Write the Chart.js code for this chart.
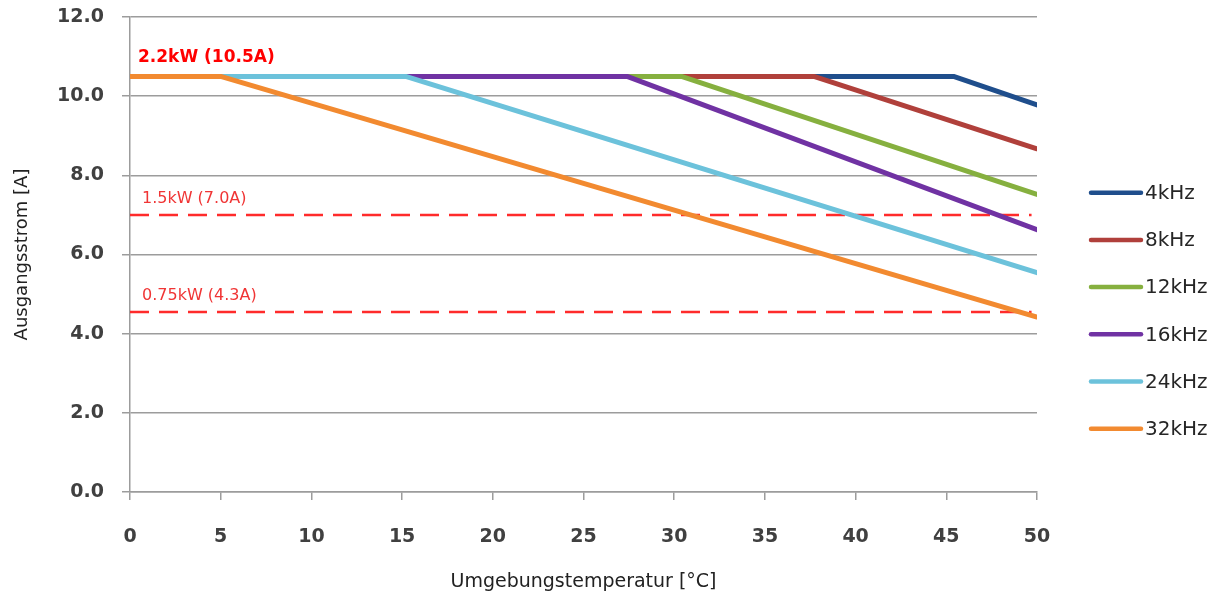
<!DOCTYPE html>
<html><head><meta charset="utf-8">
<script src="https://cdn.jsdelivr.net/npm/chart.js@4/dist/chart.umd.min.js"></script>
<style>html,body{margin:0;padding:0;background:#fff;}#wrap{width:1222px;height:593px;position:relative;}</style>
</head><body><div id="wrap"><canvas id="c" width="1222" height="593"></canvas></div>
<script>
// ---- data ----
const seriesLabels   = ['4kHz','8kHz','12kHz','16kHz','24kHz','32kHz'];
const flatCurrent    = [10.5, 10.5, 10.5, 10.5, 10.5, 10.5];   // A, before derating
const deratingStart  = [45.4, 37.7, 30.4, 27.4, 15.2, 5.0];    // °C where derating starts
const currentAt50    = [9.78, 8.67, 7.52, 6.63, 5.54, 4.42];   // A at 50 °C
const tempRange      = [0, 50];
const limitCurrents  = [7.0, 4.55];
const limitEndTemp   = 49.7;
const limitLabels    = ['1.5kW (7.0A)', '0.75kW (4.3A)'];
const ratedLabel     = '2.2kW (10.5A)';
const ratedCurrent   = 10.5;
const yAxisRange     = [0, 12];
const yStep          = 2;
const xStep          = 5;

// ---- styles ----
const seriesColors = ['#1f4e8c','#b0403b','#86b03f','#7032a3','#6cc2db','#f28a30'];
const seriesOrder  = [6,5,4,3,2,1];

const datasets = [];
limitCurrents.forEach((v,i)=>{
  datasets.push({
    label: limitLabels[i], isLimit:true,
    data:[{x:tempRange[0],y:v},{x:limitEndTemp,y:v}],
    borderColor:'#ff2b2b', borderWidth:2.5, borderDash:[19,10],
    pointRadius:0, order:20+i, fill:false
  });
});
seriesLabels.forEach((lab,i)=>{
  datasets.push({
    label: lab,
    data:[{x:tempRange[0],y:flatCurrent[i]},{x:deratingStart[i],y:flatCurrent[i]},{x:tempRange[1],y:currentAt50[i]}],
    borderColor:seriesColors[i], backgroundColor:seriesColors[i],
    borderWidth:5, pointRadius:0, tension:0, order:seriesOrder[i],
    borderCapStyle:'round', borderJoinStyle:'round', fill:false
  });
});

const overlay = {
  id:'overlay',
  afterDatasetsDraw(chart){
    const ctx = chart.ctx, xs = chart.scales.x, ys = chart.scales.y;
    ctx.save();
    ctx.textAlign='left'; ctx.textBaseline='middle';
    ctx.fillStyle='#ff0000';
    ctx.font='bold 17px "DejaVu Sans"';
    ctx.fillText(ratedLabel, xs.getPixelForValue(tempRange[0])+8, ys.getPixelForValue(ratedCurrent)-19);
    ctx.font='16px "DejaVu Sans"';
    ctx.fillStyle='#f03535';
    limitCurrents.forEach((v,i)=>{
      ctx.fillText(limitLabels[i], xs.getPixelForValue(tempRange[0])+12, ys.getPixelForValue(v)-16);
    });
    ctx.restore();
  },
  afterDraw(chart){
    const ctx = chart.ctx;
    ctx.save();
    let k=0;
    chart.data.datasets.forEach(ds=>{
      if(ds.isLimit) return;
      const y = 192.7 + k*47.2;
      ctx.strokeStyle = ds.borderColor; ctx.lineWidth=4.5; ctx.lineCap='round';
      ctx.beginPath(); ctx.moveTo(1091,y); ctx.lineTo(1141,y); ctx.stroke();
      ctx.fillStyle='#262626'; ctx.font='20px "DejaVu Sans"';
      ctx.textAlign='left'; ctx.textBaseline='middle';
      ctx.fillText(ds.label, 1145, y+1);
      k++;
    });
    ctx.restore();
  }
};

new Chart(document.getElementById('c'), {
  type:'line',
  data:{datasets},
  options:{
    responsive:false, animation:false,
    layout:{padding:{left:0,right:185,top:17,bottom:0}},
    plugins:{legend:{display:false}, tooltip:{enabled:false}},
    scales:{
      x:{
        type:'linear', min:tempRange[0], max:tempRange[1],
        afterFit(s){ s.height = 101; s.paddingLeft = 0; s.paddingRight = 0; },
        ticks:{stepSize:xStep, color:'#404040', padding:26, font:{family:'DejaVu Sans', size:19, weight:'bold'}, callback:v=>String(v)},
        grid:{drawOnChartArea:false, drawTicks:true, tickLength:8, color:'#9c9c9c', lineWidth:1.5},
        border:{color:'#9c9c9c', width:1.5},
        title:{display:true, text:'Umgebungstemperatur [°C]', color:'#222', font:{family:'DejaVu Sans', size:19}, padding:{top:5,bottom:0}}
      },
      y:{
        min:yAxisRange[0], max:yAxisRange[1],
        afterFit(s){ s.width = 130; s.paddingTop = 0; s.paddingBottom = 0; },
        ticks:{stepSize:yStep, color:'#404040', padding:18, font:{family:'DejaVu Sans', size:19, weight:'bold'}, callback:v=>Number(v).toFixed(1)},
        grid:{color:'#9c9c9c', lineWidth:1.5, tickLength:8},
        border:{color:'#9c9c9c', width:1.5},
        title:{display:true, text:'Ausgangsstrom [A]', color:'#222', font:{family:'DejaVu Sans', size:18}, padding:{top:12,bottom:0}}
      }
    }
  },
  plugins:[overlay]
});
</script></body></html>
